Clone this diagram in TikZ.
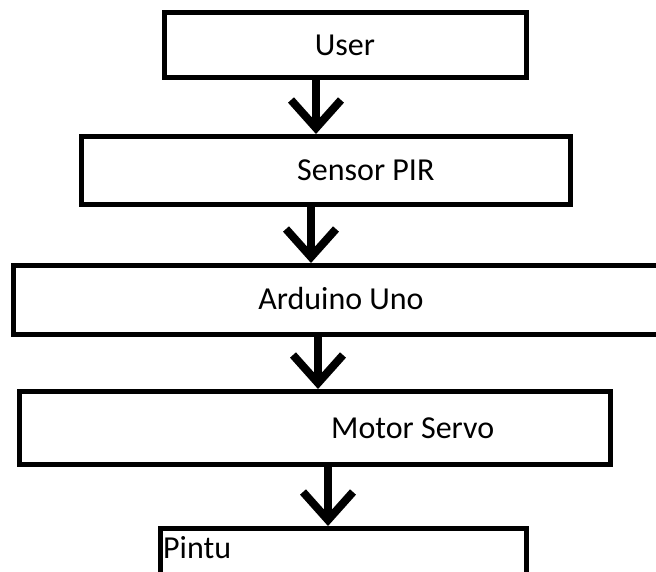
\documentclass[tikz,border=0pt]{standalone}
\usepackage{fontspec}
\setmainfont{Carlito}
\usetikzlibrary{arrows.meta}
\tikzset{
  blk/.style={draw=black, line width=5pt, fill=none},
  lbl/.style={inner sep=0pt, font=\fontsize{32}{34}\selectfont},
  conn/.style={draw=black, line width=8pt, -{Straight Barb[length=28pt, width=50pt, line width=8pt]}},
}
\begin{document}
\begin{tikzpicture}[x=1pt,y=-1pt]
\useasboundingbox (0,0) rectangle (656,571);
\fill[white] (0,0) rectangle (656,571);
% boxes
\draw[blk] (164,12.5) rectangle (526,77.5);
\coordinate (userS) at (316,80);
\draw[blk] (81.5,136.5) rectangle (570,204);
\coordinate (sensN) at (316,134);
\coordinate (sensS) at (311,207);
\coordinate (sensN2) at (311,263);
\draw[blk] (13.5,265.5) rectangle (680,334);
\coordinate (ardS) at (318,337);
\coordinate (motN) at (318,389);
\draw[blk] (19,391.5) rectangle (610,464);
\coordinate (motS) at (328,467);
\coordinate (pinN) at (328,526);
\draw[blk] (160,528.5) rectangle (526,600);
% labels
\node[lbl] (user) at (345,45) {User};
\node[lbl, anchor=west] (sensor) at (297,170) {Sensor PIR};
\node[lbl] (arduino) at (341,299) {Arduino Uno};
\node[lbl, anchor=west] (motor) at (331,428) {Motor Servo};
\node[lbl, anchor=west] (pintu) at (163,548) {Pintu};
% connectors
\draw[conn] (userS) -- (sensN);
\draw[conn] (sensS) -- (sensN2);
\draw[conn] (ardS) -- (motN);
\draw[conn] (motS) -- (pinN);
\end{tikzpicture}
\end{document}
